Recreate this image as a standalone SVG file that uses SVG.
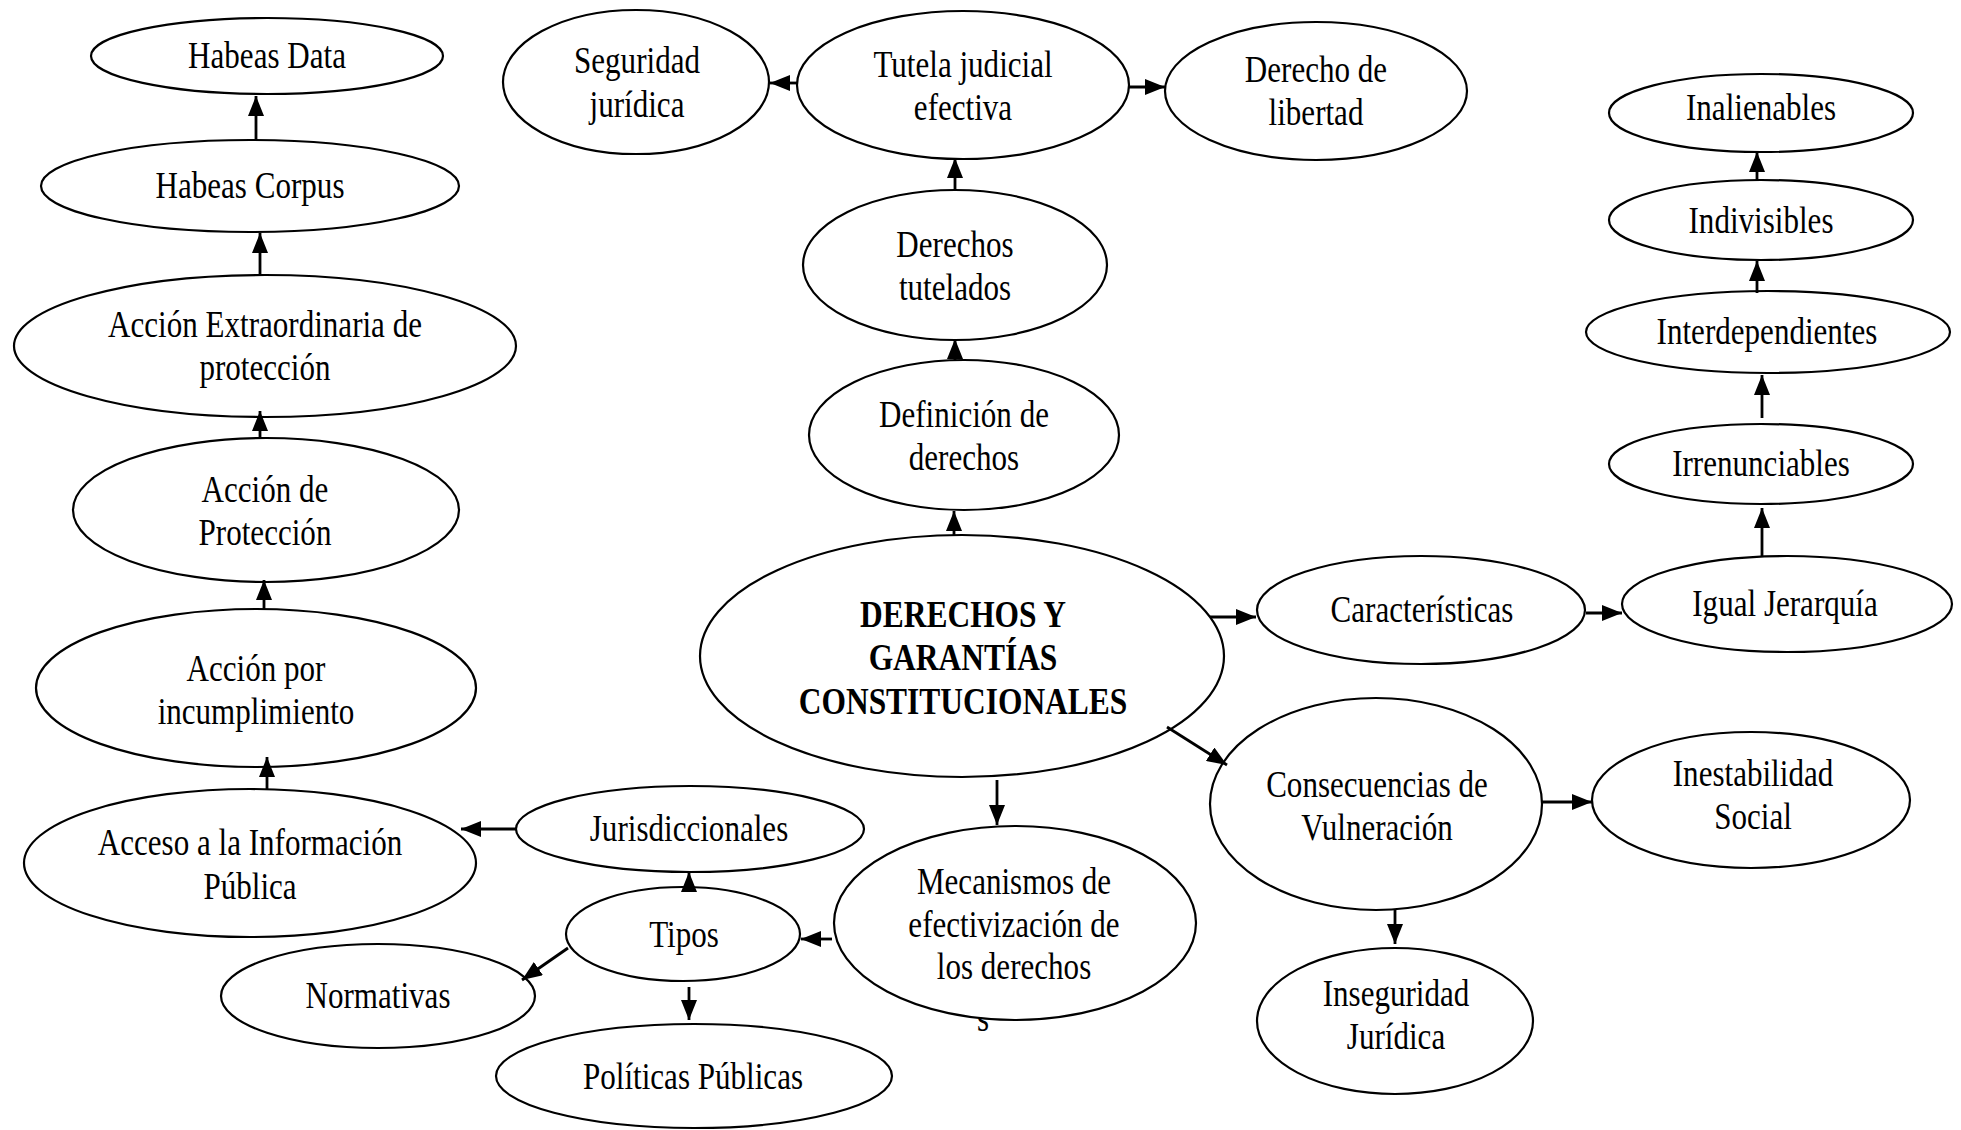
<svg xmlns="http://www.w3.org/2000/svg" width="1961" height="1130" viewBox="0 0 1961 1130">
<style>
.n{fill:#fff;stroke:#000;stroke-width:2.2}
.t{font-family:"Liberation Serif","Times New Roman",serif;font-size:37px;fill:#000;text-anchor:middle}
.b{font-weight:bold}
.c{stroke:#000;stroke-width:2.8;fill:none;marker-end:url(#ah)}
</style>
<defs>
<marker id="ah" markerWidth="20" markerHeight="16" refX="20" refY="8" orient="auto" markerUnits="userSpaceOnUse">
<path d="M0,0 L20,8 L0,16 z" fill="#000"/>
</marker>
</defs>
<rect width="1961" height="1130" fill="#fff"/>
<g transform="translate(983 0) scale(0.84 1)"><text class="t" x="0" y="1031">s</text></g>
<g id="habeas-data"><ellipse class="n" cx="267" cy="56" rx="176" ry="38"/>
<g transform="translate(267 0) scale(0.84 1)"><text class="t" x="0" y="68">Habeas Data</text></g></g>
<g id="habeas-corpus"><ellipse class="n" cx="250" cy="186" rx="209" ry="46"/>
<g transform="translate(250 0) scale(0.84 1)"><text class="t" x="0" y="198">Habeas Corpus</text></g></g>
<g id="accion-extraordinaria"><ellipse class="n" cx="265" cy="346" rx="251" ry="71"/>
<g transform="translate(265 0) scale(0.84 1)"><text class="t" x="0" y="337">Acción Extraordinaria de</text><text class="t" x="0" y="380">protección</text></g></g>
<g id="accion-proteccion"><ellipse class="n" cx="266" cy="510" rx="193" ry="72"/>
<g transform="translate(265 0) scale(0.84 1)"><text class="t" x="0" y="502">Acción de</text><text class="t" x="0" y="545">Protección</text></g></g>
<g id="accion-incumplimiento"><ellipse class="n" cx="256" cy="688" rx="220" ry="79"/>
<g transform="translate(256 0) scale(0.84 1)"><text class="t" x="0" y="681">Acción por</text><text class="t" x="0" y="724">incumplimiento</text></g></g>
<g id="acceso-informacion"><ellipse class="n" cx="250" cy="863" rx="226" ry="74"/>
<g transform="translate(250 0) scale(0.84 1)"><text class="t" x="0" y="855">Acceso a la Información</text><text class="t" x="0" y="899">Pública</text></g></g>
<g id="seguridad-juridica"><ellipse class="n" cx="636" cy="82" rx="133" ry="72"/>
<g transform="translate(637 0) scale(0.84 1)"><text class="t" x="0" y="73">Seguridad</text><text class="t" x="0" y="117">jurídica</text></g></g>
<g id="tutela-judicial"><ellipse class="n" cx="963" cy="85" rx="166" ry="74"/>
<g transform="translate(963 0) scale(0.84 1)"><text class="t" x="0" y="77">Tutela judicial</text><text class="t" x="0" y="120">efectiva</text></g></g>
<g id="derecho-libertad"><ellipse class="n" cx="1316" cy="91" rx="151" ry="69"/>
<g transform="translate(1316 0) scale(0.84 1)"><text class="t" x="0" y="82">Derecho de</text><text class="t" x="0" y="125">libertad</text></g></g>
<g id="derechos-tutelados"><ellipse class="n" cx="955" cy="265" rx="152" ry="75"/>
<g transform="translate(955 0) scale(0.84 1)"><text class="t" x="0" y="257">Derechos</text><text class="t" x="0" y="300">tutelados</text></g></g>
<g id="definicion-derechos"><ellipse class="n" cx="964" cy="435" rx="155" ry="75"/>
<g transform="translate(964 0) scale(0.84 1)"><text class="t" x="0" y="427">Definición de</text><text class="t" x="0" y="470">derechos</text></g></g>
<g id="derechos-garantias"><ellipse class="n" cx="962" cy="656" rx="262" ry="121"/>
<g transform="translate(963 0) scale(0.85 1)"><text class="t b" x="0" y="627">DERECHOS Y</text><text class="t b" x="0" y="670">GARANTÍAS</text><text class="t b" x="0" y="714">CONSTITUCIONALES</text></g></g>
<g id="caracteristicas"><ellipse class="n" cx="1421" cy="610" rx="164" ry="54"/>
<g transform="translate(1422 0) scale(0.84 1)"><text class="t" x="0" y="622">Características</text></g></g>
<g id="igual-jerarquia"><ellipse class="n" cx="1787" cy="604" rx="165" ry="48"/>
<g transform="translate(1785 0) scale(0.84 1)"><text class="t" x="0" y="616">Igual Jerarquía</text></g></g>
<g id="irrenunciables"><ellipse class="n" cx="1761" cy="464" rx="152" ry="40"/>
<g transform="translate(1761 0) scale(0.84 1)"><text class="t" x="0" y="476">Irrenunciables</text></g></g>
<g id="interdependientes"><ellipse class="n" cx="1768" cy="332" rx="182" ry="41"/>
<g transform="translate(1767 0) scale(0.84 1)"><text class="t" x="0" y="344">Interdependientes</text></g></g>
<g id="indivisibles"><ellipse class="n" cx="1761" cy="220" rx="152" ry="40"/>
<g transform="translate(1761 0) scale(0.84 1)"><text class="t" x="0" y="233">Indivisibles</text></g></g>
<g id="inalienables"><ellipse class="n" cx="1761" cy="113" rx="152" ry="39"/>
<g transform="translate(1761 0) scale(0.84 1)"><text class="t" x="0" y="120">Inalienables</text></g></g>
<g id="consecuencias-vulneracion"><ellipse class="n" cx="1376" cy="804" rx="166" ry="106"/>
<g transform="translate(1377 0) scale(0.84 1)"><text class="t" x="0" y="797">Consecuencias de</text><text class="t" x="0" y="840">Vulneración</text></g></g>
<g id="inestabilidad-social"><ellipse class="n" cx="1751" cy="800" rx="159" ry="68"/>
<g transform="translate(1753 0) scale(0.84 1)"><text class="t" x="0" y="786">Inestabilidad</text><text class="t" x="0" y="829">Social</text></g></g>
<g id="inseguridad-juridica"><ellipse class="n" cx="1395" cy="1021" rx="138" ry="73"/>
<g transform="translate(1396 0) scale(0.84 1)"><text class="t" x="0" y="1006">Inseguridad</text><text class="t" x="0" y="1049">Jurídica</text></g></g>
<g id="mecanismos"><ellipse class="n" cx="1015" cy="923" rx="181" ry="97"/>
<g transform="translate(1014 0) scale(0.84 1)"><text class="t" x="0" y="894">Mecanismos de</text><text class="t" x="0" y="937">efectivización de</text><text class="t" x="0" y="979">los derechos</text></g></g>
<g id="jurisdiccionales"><ellipse class="n" cx="690" cy="829" rx="174" ry="43"/>
<g transform="translate(689 0) scale(0.84 1)"><text class="t" x="0" y="841">Jurisdiccionales</text></g></g>
<g id="tipos"><ellipse class="n" cx="683" cy="934" rx="117" ry="47"/>
<g transform="translate(684 0) scale(0.84 1)"><text class="t" x="0" y="947">Tipos</text></g></g>
<g id="normativas"><ellipse class="n" cx="378" cy="996" rx="157" ry="52"/>
<g transform="translate(378 0) scale(0.84 1)"><text class="t" x="0" y="1008">Normativas</text></g></g>
<g id="politicas-publicas"><ellipse class="n" cx="694" cy="1076" rx="198" ry="52"/>
<g transform="translate(693 0) scale(0.84 1)"><text class="t" x="0" y="1089">Políticas Públicas</text></g></g>
<g id="connectors">
<line class="c" x1="256" y1="140" x2="256" y2="96"/>
<line class="c" x1="260" y1="275" x2="260" y2="233"/>
<line class="c" x1="260" y1="438" x2="260" y2="411"/>
<line class="c" x1="264" y1="610" x2="264" y2="580"/>
<line class="c" x1="267" y1="789" x2="267" y2="757"/>
<line class="c" x1="516" y1="829" x2="461" y2="829"/>
<line class="c" x1="954" y1="535" x2="954" y2="511"/>
<line class="c" x1="955" y1="360" x2="955" y2="339"/>
<line class="c" x1="955" y1="190" x2="955" y2="158"/>
<line class="c" x1="797" y1="83" x2="770" y2="83"/>
<line class="c" x1="1129" y1="87" x2="1165" y2="87"/>
<line class="c" x1="1210" y1="617" x2="1256" y2="617"/>
<line class="c" x1="1586" y1="613" x2="1622" y2="613"/>
<line class="c" x1="1762" y1="556" x2="1762" y2="508"/>
<line class="c" x1="1762" y1="418" x2="1762" y2="375"/>
<line class="c" x1="1757" y1="293" x2="1757" y2="261"/>
<line class="c" x1="1757" y1="180" x2="1757" y2="152"/>
<line class="c" x1="1167" y1="727" x2="1227" y2="765"/>
<line class="c" x1="1542" y1="802" x2="1592" y2="802"/>
<line class="c" x1="1395" y1="910" x2="1395" y2="944"/>
<line class="c" x1="997" y1="780" x2="997" y2="825"/>
<line class="c" x1="832" y1="939" x2="801" y2="939"/>
<line class="c" x1="689" y1="889" x2="689" y2="872"/>
<line class="c" x1="568" y1="948" x2="522" y2="980"/>
<line class="c" x1="689" y1="987" x2="689" y2="1020"/>
</g>
</svg>
